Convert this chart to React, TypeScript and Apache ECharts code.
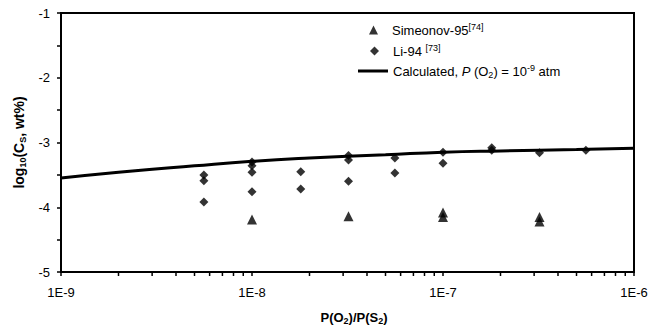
import React, { useEffect, useRef } from "react";
import * as echarts from "echarts";

// ---- data ----
const xMin = 1e-9;
const xMax = 1e-6;
const yMin = -5;
const yMax = -1;

// Simeonov-95 [x, log10(Cs)]
const simeonovData: [number, number][] = [
  [1e-8, -4.19],
  [3.2e-8, -4.14],
  [1e-7, -4.08],
  [1e-7, -4.15],
  [3.2e-7, -4.15],
  [3.2e-7, -4.22],
];

// Li-94 [x, log10(Cs)]
const liData: [number, number][] = [
  [5.6e-9, -3.5],
  [5.6e-9, -3.59],
  [5.6e-9, -3.92],
  [1e-8, -3.3],
  [1e-8, -3.36],
  [1e-8, -3.46],
  [1e-8, -3.76],
  [1.8e-8, -3.45],
  [1.8e-8, -3.72],
  [3.2e-8, -3.2],
  [3.2e-8, -3.27],
  [3.2e-8, -3.6],
  [5.6e-8, -3.24],
  [5.6e-8, -3.47],
  [1e-7, -3.15],
  [1e-7, -3.32],
  [1.8e-7, -3.08],
  [1.8e-7, -3.12],
  [3.2e-7, -3.16],
  [5.6e-7, -3.12],
];

// Calculated curve, P(O2) = 1e-9 atm
const calcData: [number, number][] = [
  [1e-9, -3.55],
  [2e-9, -3.46],
  [5e-9, -3.36],
  [1e-8, -3.29],
  [2e-8, -3.24],
  [5e-8, -3.19],
  [1e-7, -3.15],
  [2e-7, -3.13],
  [5e-7, -3.11],
  [1e-6, -3.09],
];

// minor (log) tick positions on the x axis
const decades = [1e-9, 1e-8, 1e-7];
const minorMultipliers = [2, 3, 4, 5, 6, 7, 8, 9];
const minorTicks: number[] = [];
decades.forEach((d) => minorMultipliers.forEach((m) => minorTicks.push(m * d)));

const FONT = "'Liberation Sans', Arial, Helvetica, sans-serif";

export default function App() {
  const ref = useRef<HTMLDivElement>(null);

  useEffect(() => {
    if (!ref.current) return;
    const chart = echarts.init(ref.current, undefined, { renderer: "svg" });

    const legendRich = {
      g: { fontSize: 13, fontFamily: FONT, lineHeight: 16, width: 9 },
      a: { fontSize: 13, fontFamily: FONT, color: "#000", lineHeight: 16 },
      i: { fontSize: 13, fontFamily: FONT, color: "#000", lineHeight: 16, fontStyle: "italic" },
      sup: { fontSize: 9, fontFamily: FONT, color: "#000", lineHeight: 8, verticalAlign: "top" },
      sub: { fontSize: 9, fontFamily: FONT, color: "#000", lineHeight: 10, verticalAlign: "bottom" },
    };

    const legendBase = {
      orient: "vertical",
      padding: 0,
      itemHeight: 9,
      selectedMode: false,
      textStyle: { fontFamily: FONT, fontSize: 13, color: "#000", rich: legendRich },
    };

    const option: any = {
      animation: false,
      backgroundColor: "#fff",
      textStyle: { fontFamily: FONT },
      grid: {
        left: 61,
        right: 28,
        top: 13,
        bottom: 57,
        show: true,
        borderColor: "#000",
        borderWidth: 2,
        backgroundColor: "transparent",
      },
      legend: [
        {
          ...legendBase,
          left: 369,
          top: 22,
          itemWidth: 9,
          data: [{ name: "Simeonov-95", icon: "triangle" }],
          formatter: () => "{g| }{a|Simeonov-95}{sup|[74]}",
        },
        {
          ...legendBase,
          left: 370,
          top: 43,
          itemWidth: 9,
          data: [{ name: "Li-94", icon: "diamond" }],
          formatter: () => "{g| }{a|Li-94 }{sup|[73]}",
        },
        {
          ...legendBase,
          left: 358,
          top: 63,
          itemWidth: 30,
          itemHeight: 3,
          data: [{ name: "Calculated", icon: "rect" }],
          formatter: () => "{a|Calculated, }{i|P}{a| (O}{sub|2}{a|) = 10}{sup|-9}{a| atm}",
        },
      ],
      xAxis: {
        type: "log",
        logBase: 10,
        min: xMin,
        max: xMax,
        name: "{b|P(O}{s|2}{b|)/P(S}{s|2}{b|)}",
        nameLocation: "middle",
        nameGap: 37,
        nameTextStyle: {
          padding: [0, 0, 0, 13],
          rich: {
            b: { fontSize: 13, fontWeight: "bold", fontFamily: FONT, color: "#000", lineHeight: 16 },
            s: { fontSize: 9, fontWeight: "bold", fontFamily: FONT, color: "#000", lineHeight: 10, verticalAlign: "bottom" },
          },
        },
        axisLine: { show: true, lineStyle: { color: "#000", width: 2 } },
        axisTick: { show: true, inside: false, length: 4, lineStyle: { color: "#000", width: 1.5 } },
        minorTick: { show: false },
        splitLine: { show: false },
        axisLabel: {
          color: "#000",
          fontSize: 13,
          fontFamily: FONT,
          margin: 14,
          formatter: (v: number) => "1E" + Math.round(Math.log10(v)),
        },
      },
      yAxis: {
        type: "value",
        min: yMin,
        max: yMax,
        interval: 1,
        name: "{b|log}{s|10}{b|(C}{s|S}{b|, wt%)}",
        nameLocation: "middle",
        nameGap: 33,
        nameRotate: 90,
        nameTextStyle: {
          rich: {
            b: { fontSize: 14, fontWeight: "bold", fontFamily: FONT, color: "#000", lineHeight: 18 },
            s: { fontSize: 9, fontWeight: "bold", fontFamily: FONT, color: "#000", lineHeight: 10, verticalAlign: "bottom" },
          },
        },
        axisLine: { show: true, lineStyle: { color: "#000", width: 2 } },
        axisTick: { show: true, inside: false, length: 4, lineStyle: { color: "#000", width: 1.5 } },
        minorTick: { show: true, splitNumber: 2, length: 4, lineStyle: { color: "#000", width: 1.5 } },
        splitLine: { show: false },
        minorSplitLine: { show: false },
        axisLabel: { color: "#000", fontSize: 13, fontFamily: FONT, margin: 11 },
      },
      series: [
        {
          name: "Simeonov-95",
          type: "scatter",
          symbol: "triangle",
          symbolSize: 10,
          itemStyle: { color: "#000" },
          data: simeonovData,
          z: 4,
        },
        {
          name: "Li-94",
          type: "scatter",
          symbol: "diamond",
          symbolSize: 9,
          itemStyle: { color: "#000" },
          data: liData,
          z: 4,
        },
        {
          name: "Calculated",
          type: "line",
          smooth: true,
          symbol: "none",
          showSymbol: false,
          lineStyle: { color: "#000", width: 3 },
          itemStyle: { color: "#000" },
          data: calcData,
          z: 3,
        },
        {
          name: "minorTicks",
          type: "custom",
          coordinateSystem: "cartesian2d",
          clip: false,
          silent: true,
          data: minorTicks.map((v) => [v, yMin]),
          renderItem: (_params: any, api: any) => {
            const p = api.coord([api.value(0), yMin]);
            return {
              type: "line",
              shape: { x1: p[0], y1: p[1], x2: p[0], y2: p[1] + 4 },
              style: { stroke: "#000", lineWidth: 1.5 },
            };
          },
        },
      ],
    };

    chart.setOption(option);
    return () => chart.dispose();
  }, []);

  return (
    <div
      ref={ref}
      style={{ position: "fixed", left: 0, top: 0, width: 662, height: 330, background: "#fff" }}
    />
  );
}
